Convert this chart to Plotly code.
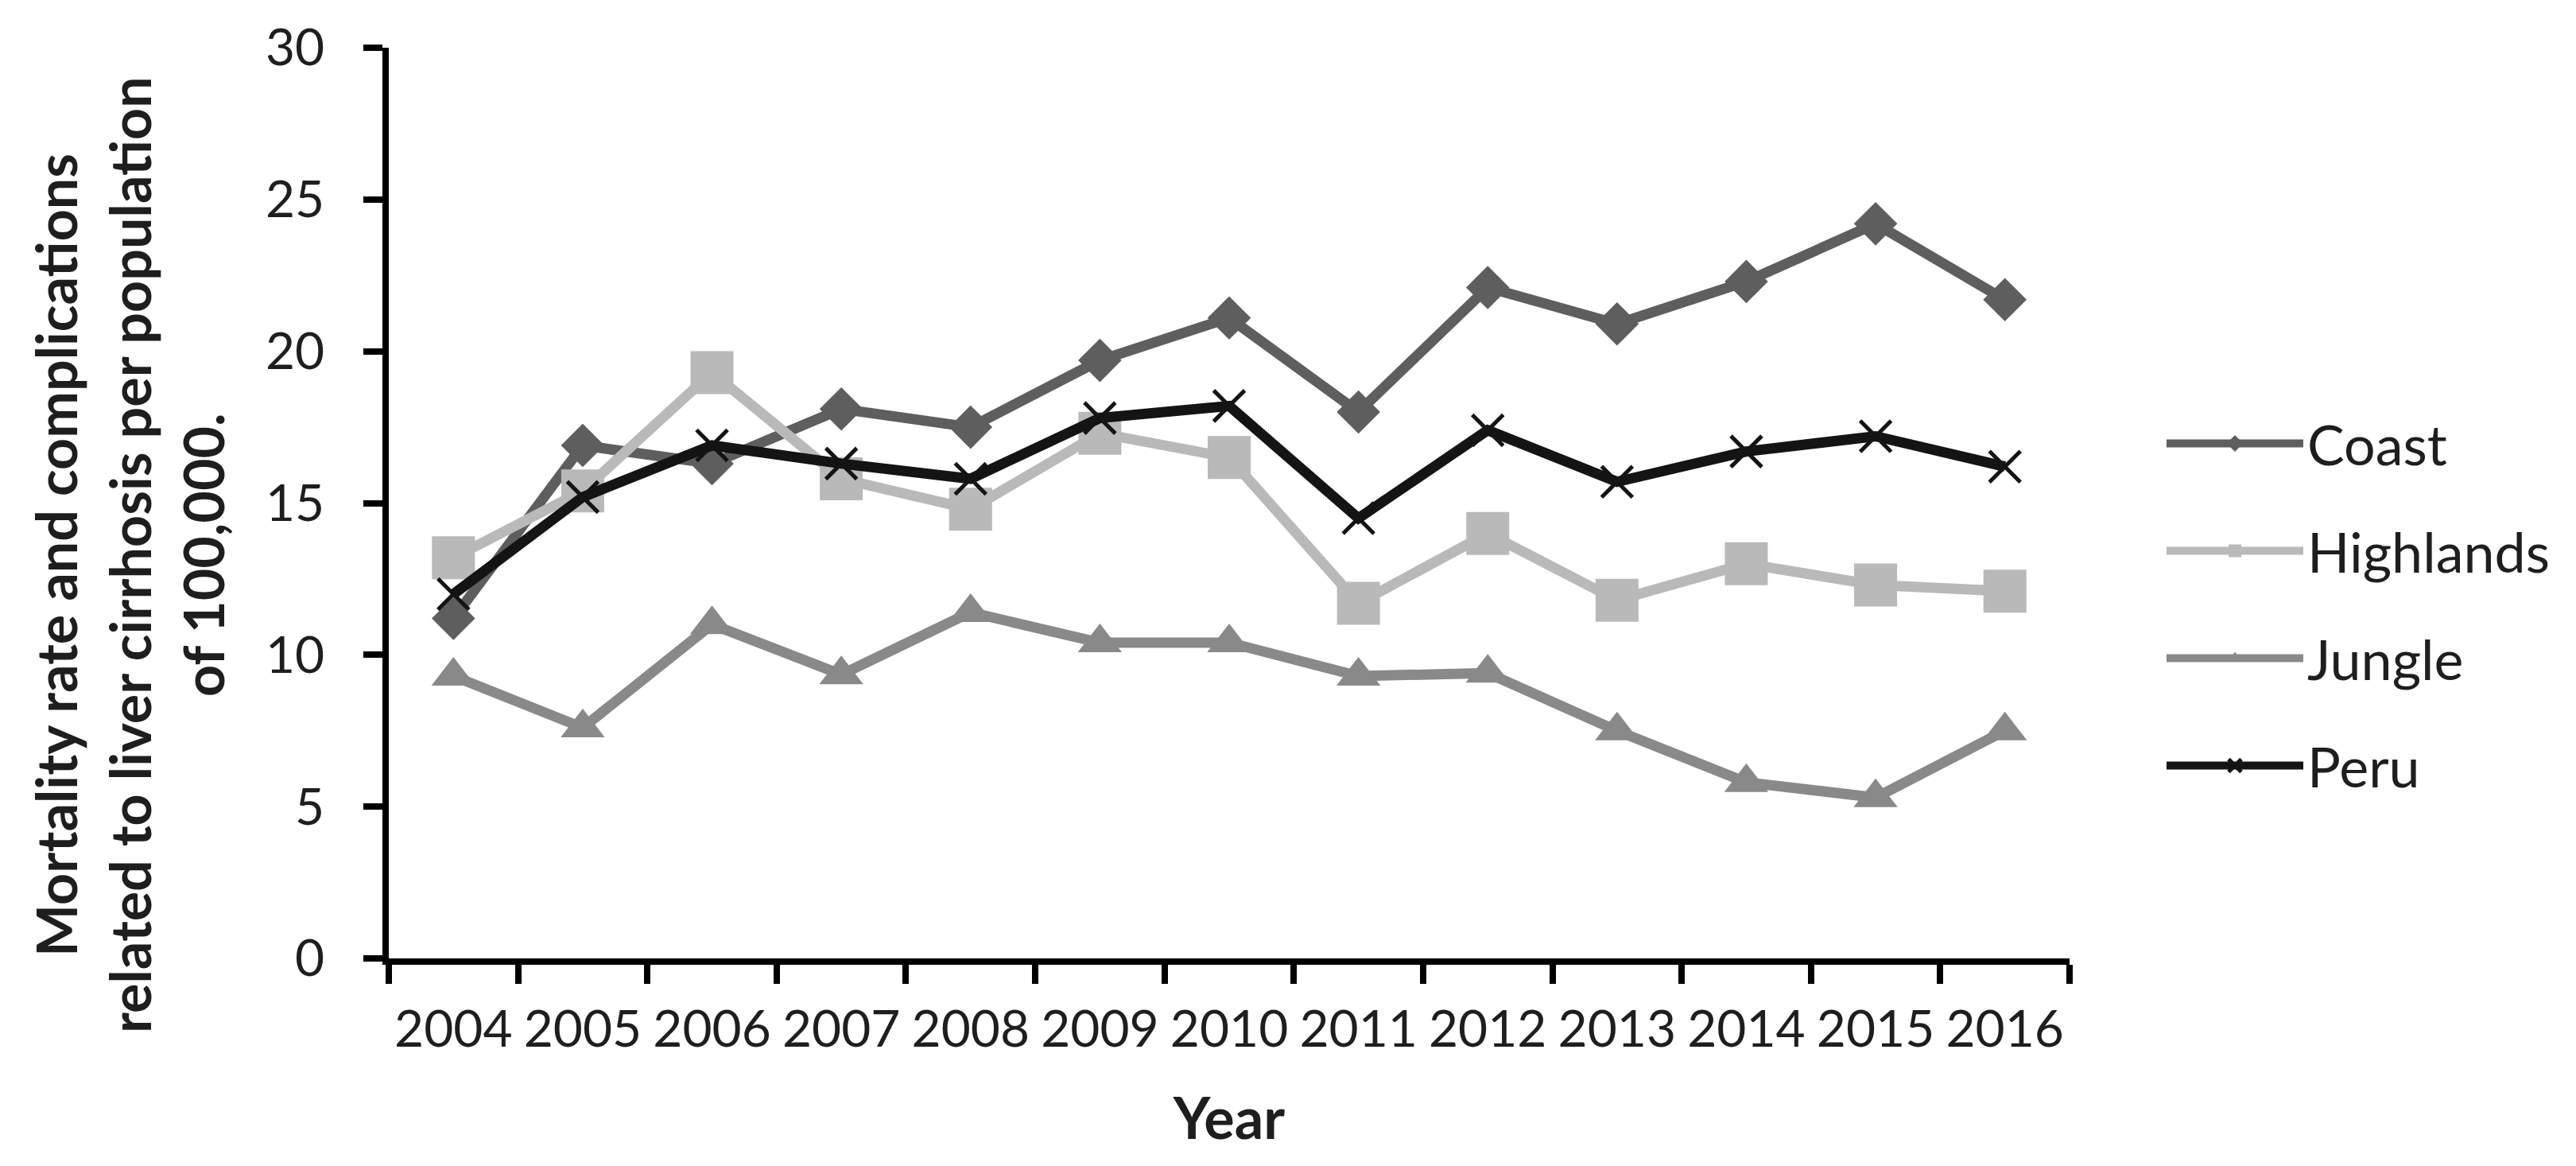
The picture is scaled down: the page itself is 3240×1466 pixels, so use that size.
import plotly.graph_objects as go

years = ["2004", "2005", "2006", "2007", "2008", "2009", "2010",
         "2011", "2012", "2013", "2014", "2015", "2016"]
coast = [11.2, 16.9, 16.3, 18.1, 17.5, 19.7, 21.1, 18.0, 22.1, 20.9, 22.3, 24.2, 21.7]
highlands = [13.2, 15.4, 19.3, 15.8, 14.8, 17.3, 16.5, 11.7, 14.0, 11.8, 13.0, 12.3, 12.1]
jungle = [9.3, 7.6, 11.0, 9.35, 11.4, 10.4, 10.4, 9.3, 9.4, 7.5, 5.8, 5.3, 7.5]
peru = [12.0, 15.2, 16.9, 16.3, 15.8, 17.8, 18.2, 14.5, 17.4, 15.7, 16.7, 17.2, 16.2]

y_ticks = [0, 5, 10, 15, 20, 25, 30]
y_title_lines = ["Mortality rate and complications",
                 "related to liver cirrhosis per population",
                 "of 100,000."]
x_title = "Year"

W, H = 3240, 1466
ML, MR, MT, MB = 481, 645, 52, 269
PW = W - ML - MR
PH = H - MT - MB

FONT = "Lato, Open Sans, sans-serif"
TXT = "#1e1e1e"

series = [
    ("Coast", coast, "#5e5e5e", "diamond", 42, dict(width=0)),
    ("Highlands", highlands, "#b9b9b9", "square", 54, dict(width=0)),
    ("Jungle", jungle, "#898989", "triangle-up", 48, dict(width=0)),
    ("Peru", peru, "#141414", "x-thin", 39, dict(width=5, color="#141414")),
]

fig = go.Figure()
for name, vals, col, sym, sz, mline in series:
    fig.add_trace(go.Scatter(
        x=years, y=vals, name=name, mode="lines+markers",
        legendgroup=name,
        line=dict(color=col, width=13),
        marker=dict(symbol=sym, size=sz, color=col, line=mline),
    ))

annotations = []
line_x_px = [62, 155, 247]
for txt, px in zip(y_title_lines, line_x_px):
    annotations.append(dict(
        text=txt, xref="paper", yref="paper",
        x=(px - ML) / PW, y=(H - MB - 690) / PH,
        xanchor="center", yanchor="middle", textangle=-90,
        showarrow=False,
        font=dict(family=FONT, size=70, color=TXT, weight="bold"),
    ))

fig.update_layout(
    width=W, height=H,
    margin=dict(l=ML, r=MR, t=MT, b=MB, pad=0, autoexpand=False),
    paper_bgcolor="white", plot_bgcolor="white",
    showlegend=True,
    legend=dict(
        x=(2712 - ML) / PW, xanchor="left",
        y=(H - MB - 752) / PH, yanchor="middle",
        font=dict(family=FONT, size=70, color=TXT),
        traceorder="grouped", tracegroupgap=41,
        itemwidth=172, bgcolor="rgba(0,0,0,0)",
    ),
    annotations=annotations,
    xaxis=dict(
        type="category", tickson="boundaries",
        range=[-0.5, 12.5], automargin=False, tickangle=0,
        showline=True, linecolor="black", linewidth=8,
        ticks="outside", ticklen=24, tickwidth=8, tickcolor="black",
        tickfont=dict(family=FONT, size=64, color=TXT),
        ticklabelstandoff=26,
        showgrid=False, zeroline=False,
        title=dict(text=x_title, standoff=56,
                   font=dict(family=FONT, size=72, color=TXT, weight="bold")),
    ),
    yaxis=dict(
        range=[0, 30], tickmode="array", tickvals=y_ticks, automargin=False,
        showline=True, linecolor="black", linewidth=8,
        ticks="outside", ticklen=24, tickwidth=8, tickcolor="black",
        tickfont=dict(family=FONT, size=64, color=TXT),
        ticklabelstandoff=36,
        showgrid=False, zeroline=False,
    ),
)

fig.write_html("out.html")
